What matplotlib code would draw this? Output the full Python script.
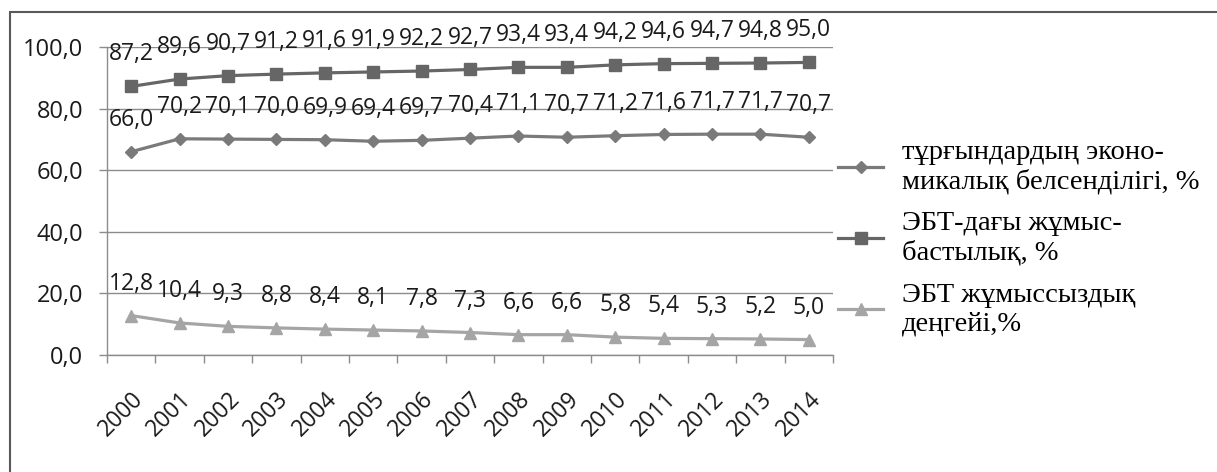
import matplotlib
matplotlib.use("Agg")
import matplotlib.pyplot as plt
import matplotlib.transforms as mtransforms
from matplotlib.patches import Rectangle
from matplotlib.ticker import MultipleLocator

years = ["2000", "2001", "2002", "2003", "2004", "2005", "2006", "2007",
         "2008", "2009", "2010", "2011", "2012", "2013", "2014"]

# тұрғындардың экономикалық белсенділігі
activity = [66.0, 70.2, 70.1, 70.0, 69.9, 69.4, 69.7, 70.4,
            71.1, 70.7, 71.2, 71.6, 71.7, 71.7, 70.7]
# ЭБТ-дағы жұмысбастылық
employment = [87.2, 89.6, 90.7, 91.2, 91.6, 91.9, 92.2, 92.7,
              93.4, 93.4, 94.2, 94.6, 94.7, 94.8, 95.0]
# ЭБТ жұмыссыздық деңгейі
unemployment = [12.8, 10.4, 9.3, 8.8, 8.4, 8.1, 7.8, 7.3,
                6.6, 6.6, 5.8, 5.4, 5.3, 5.2, 5.0]

labels = ["тұрғындардың эконо-\nмикалық белсенділігі, %",
          "ЭБТ-дағы жұмыс-\nбастылық, %",
          "ЭБТ жұмыссыздық\nдеңгейі,%"]

num_font = ["Open Sans", "DejaVu Sans"]
leg_font = ["Liberation Serif", "DejaVu Serif"]

fig = plt.figure(figsize=(12.17, 4.72), dpi=100)
ax = fig.add_axes([0.0879, 0.2479, 0.5966, 0.6525])

x = list(range(len(years)))
series = [
    (activity, "#7a7a7a", "D", 6),
    (employment, "#666666", "s", 9),
    (unemployment, "#a5a5a5", "^", 9),
]
for (vals, col, mk, ms), lab in zip(series, labels):
    ax.plot(x, vals, color=col, lw=2.3, marker=mk, markersize=ms,
            markerfacecolor=col, markeredgecolor=col, label=lab)
    for xi, v in zip(x, vals):
        ax.annotate(f"{v:.1f}".replace(".", ","), (xi, v),
                    xytext=(0, 23), textcoords="offset points",
                    ha="center", va="center", fontsize=16.5,
                    family=num_font, color="#1a1a1a")

ax.set_xlim(-0.5, len(years) - 0.5)
ax.set_ylim(0, 100)
ax.yaxis.set_major_locator(MultipleLocator(20))
ax.set_yticklabels([f"{v:.1f}".replace(".", ",") for v in ax.get_yticks()],
                   family=num_font, fontsize=17, color="#1a1a1a")
ax.grid(axis="y", color="#8c8c8c", lw=1)
ax.set_axisbelow(True)

ax.set_xticks(x)
ax.set_xticklabels(years, rotation=45, ha="right", va="top",
                   rotation_mode="anchor", family=num_font, fontsize=16.5,
                   color="#1a1a1a")
shift = mtransforms.ScaledTranslation(5 / 100, 0, fig.dpi_scale_trans)
for t in ax.get_xticklabels():
    t.set_transform(t.get_transform() + shift)
ax.set_xticks([i - 0.5 for i in range(len(years) + 1)], minor=True)
ax.tick_params(axis="x", which="major", length=0, pad=23)
ax.tick_params(axis="x", which="minor", length=6, color="#8c8c8c", width=1)
ax.tick_params(axis="y", length=6, color="#8c8c8c", width=1, pad=11)

for s in ["top", "right"]:
    ax.spines[s].set_visible(False)
for s in ["left", "bottom"]:
    ax.spines[s].set_color("#8c8c8c")
    ax.spines[s].set_linewidth(1)

leg = fig.legend(loc="center left", bbox_to_anchor=(0.679, 0.495),
                 frameon=False, prop={"family": leg_font, "size": 20.5},
                 handlelength=1.6, handletextpad=0.67, labelspacing=0.6,
                 borderaxespad=0)

# outer chart frame (right and bottom edges are cut off in the source)
fig.patches.append(Rectangle((10 / 1217, -0.1), 1.2, 1 - 12 / 472 + 0.1,
                             transform=fig.transFigure, fill=False,
                             edgecolor="#595959", lw=1.5))

fig.savefig("out.png", dpi=100)
